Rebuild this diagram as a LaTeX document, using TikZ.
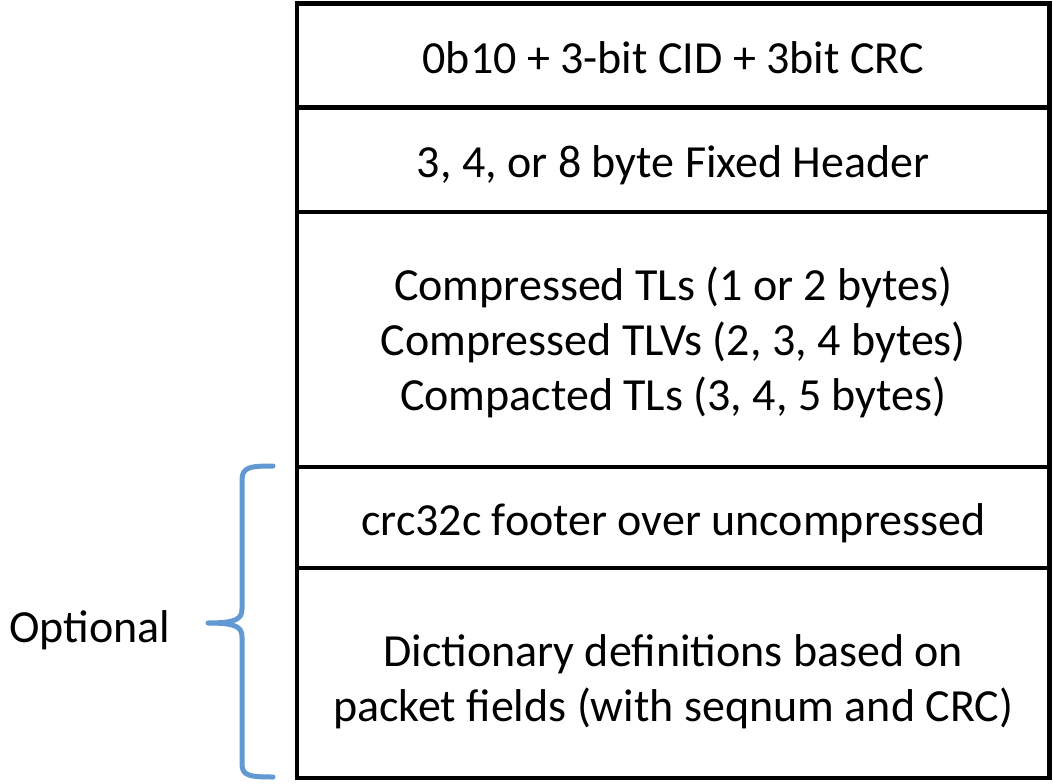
\documentclass[tikz,border=0pt]{standalone}
\usepackage{fontspec}
\setmainfont{Carlito}
\definecolor{braceblue}{RGB}{98,153,210}
\tikzset{
  row/.style={draw=black, line width=4.5pt, minimum width=752.5pt, inner sep=0pt, outer sep=0pt, anchor=north west, align=center, font=\fontsize{46}{55}\selectfont},
  oneline/.style={text height=36pt, text depth=0pt},
  bracepath/.style={draw=braceblue, line width=5pt, line cap=round, line join=round},
}
\begin{document}
\begin{tikzpicture}[x=1pt,y=-1pt]
\useasboundingbox (0,0) rectangle (1053,784);
\node[row, oneline, minimum height=104pt] (r1) at (297,3.5) {0b10 + 3-bit CID + 3bit CRC};
\node[row, oneline, minimum height=104.5pt] (r2) at (297,107.5) {3, 4, or 8 byte Fixed Header};
\node[row, minimum height=255pt] (r3) at (297,212) {\rule{0pt}{40pt}Compressed TLs (1 or 2 bytes)\\Compressed TLVs (2, 3, 4 bytes)\\Compacted TLs (3, 4, 5 bytes)};
\node[row, oneline, minimum height=101pt] (r4) at (297,467) {crc32c footer over uncompressed};
\node[row, minimum height=210pt] (r5) at (297,568) {\rule{0pt}{50pt}Dictionary definitions based on\\packet fields (with seqnum and CRC)};
\node[font=\fontsize{46}{55}\selectfont, anchor=base, inner sep=0pt] (opt) at (90,642) {Optional};
\coordinate (btop) at (273,466);
\coordinate (btip) at (208,623);
\coordinate (bbot) at (273,777);
\draw[bracepath] (btop) .. controls (250,466) and (242,467) .. (242,480) -- (242,609)
  .. controls (242,619) and (236,623) .. (btip)
  .. controls (236,623) and (242,627) .. (242,637) -- (242,764)
  .. controls (242,776) and (250,777) .. (bbot);
\end{tikzpicture}
\end{document}
